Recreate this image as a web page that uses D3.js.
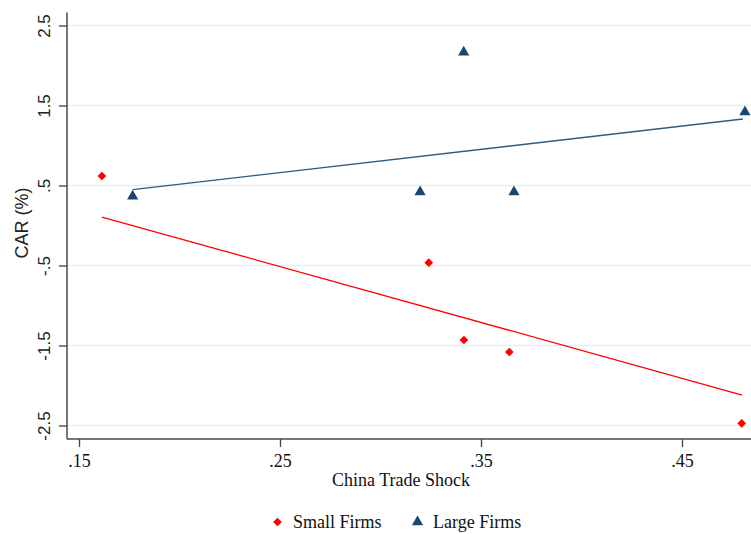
<!DOCTYPE html>
<html><head><meta charset="utf-8">
<script src="https://cdn.jsdelivr.net/npm/d3@7"></script>
<style>body{margin:0;background:#fff}svg{display:block}</style>
</head><body>
<svg id="c" width="751" height="534"></svg>
<script>
// ---- data ----
const smallX = [0.1614, 0.3240, 0.3415, 0.3641, 0.4797];
const smallY = [0.619, -0.465, -1.431, -1.581, -2.4725];
const largeX = [0.1767, 0.3197, 0.3414, 0.3664, 0.4813];
const largeY = [0.366, 0.418, 2.165, 0.418, 1.419];
const smallFitX = [0.1614, 0.4799];
const smallFitY = [0.106, -2.119];
const largeFitX = [0.1767, 0.4803];
const largeFitY = [0.448, 1.331];
const xTicks = [0.15, 0.25, 0.35, 0.45];
const xTickLabels = [".15", ".25", ".35", ".45"];
const yTicks = [2.5, 1.5, 0.5, -0.5, -1.5, -2.5];
const yTickLabels = ["2.5", "1.5", ".5", "-.5", "-1.5", "-2.5"];
const seriesNames = ["Small Firms", "Large Firms"];

const RED = "#ff0000", NAVY = "#1a476f";
const svg = d3.select("#c");
const x = d3.scaleLinear().domain([0.15, 0.45]).range([79, 682]);
const y = d3.scaleLinear().domain([-2.5, 2.5]).range([425.5, 25.5]);
const axisX0 = 67, axisY0 = 439;

// gridlines
svg.append("g").selectAll("line").data(yTicks).join("line")
  .attr("x1", axisX0).attr("x2", 751)
  .attr("y1", d => y(d)).attr("y2", d => y(d))
  .attr("stroke", "#e5eef0").attr("stroke-width", 1.3);

// y axis
const yAxis = d3.axisLeft(y).tickValues(yTicks).tickSize(8).tickFormat((d,i)=>yTickLabels[i]);
const gy = svg.append("g").attr("transform", `translate(${axisX0},0)`).call(yAxis);
gy.select(".domain").remove();
gy.selectAll(".tick line").attr("stroke", "#4a4a4a").attr("stroke-width", 1.4);
gy.selectAll(".tick text").attr("transform", "rotate(-90)").attr("x", 0).attr("y", -17)
  .attr("dy", 0).attr("text-anchor", "middle")
  .style("font-family", "'Liberation Sans', Arial, sans-serif").style("font-size", "17px").attr("fill", "#222");
svg.append("line").attr("x1", axisX0).attr("x2", axisX0).attr("y1", 12.5).attr("y2", axisY0)
  .attr("stroke", "#4a4a4a").attr("stroke-width", 1.5);

// x axis
const xAxis = d3.axisBottom(x).tickValues(xTicks).tickSize(8).tickFormat((d,i)=>xTickLabels[i]);
const gx = svg.append("g").attr("transform", `translate(0,${axisY0})`).call(xAxis);
gx.select(".domain").remove();
gx.selectAll(".tick line").attr("stroke", "#4a4a4a").attr("stroke-width", 1.4);
gx.selectAll(".tick text").attr("y", 28).attr("dy", 0)
  .style("font-family", "'Liberation Serif', 'Times New Roman', serif").style("font-size", "18px").attr("fill", "#111");
svg.append("line").attr("x1", axisX0).attr("x2", 751).attr("y1", axisY0).attr("y2", axisY0)
  .attr("stroke", "#4a4a4a").attr("stroke-width", 1.5);

// axis titles
svg.append("text").attr("x", 401).attr("y", 486).attr("text-anchor", "middle")
  .style("font-family", "'Liberation Serif', 'Times New Roman', serif").style("font-size", "18px")
  .attr("fill", "#111").text("China Trade Shock");
svg.append("text").attr("transform", "translate(28,223) rotate(-90)").attr("text-anchor", "middle")
  .style("font-family", "'Liberation Sans', Arial, sans-serif").style("font-size", "18px")
  .attr("fill", "#222").text("CAR (%)");

// fit lines
const line = d3.line().x(d => x(d[0])).y(d => y(d[1]));
svg.append("path").datum(d3.zip(smallFitX, smallFitY)).attr("d", line)
  .attr("fill", "none").attr("stroke", RED).attr("stroke-width", 1.3);
svg.append("path").datum(d3.zip(largeFitX, largeFitY)).attr("d", line)
  .attr("fill", "none").attr("stroke", "#2f5a80").attr("stroke-width", 1.4);

// markers
const diamond = d3.symbol().type(d3.symbolDiamond2).size(48)();
const tri = d3.symbol().type(d3.symbolTriangle).size(54)();
svg.append("g").selectAll("path").data(d3.zip(smallX, smallY)).join("path")
  .attr("d", diamond).attr("transform", d => `translate(${x(d[0])},${y(d[1])})`).attr("fill", RED);
svg.append("g").selectAll("path").data(d3.zip(largeX, largeY)).join("path")
  .attr("d", tri).attr("transform", d => `translate(${x(d[0])},${y(d[1])})`).attr("fill", NAVY);

// legend
const leg = svg.append("g");
leg.append("path").attr("d", diamond).attr("transform", "translate(277.5,522)").attr("fill", RED);
leg.append("text").attr("x", 293).attr("y", 528).text(seriesNames[0])
  .style("font-family", "'Liberation Serif', 'Times New Roman', serif").style("font-size", "18px").attr("fill", "#111");
leg.append("path").attr("d", tri).attr("transform", "translate(417.5,522)").attr("fill", NAVY);
leg.append("text").attr("x", 433).attr("y", 528).text(seriesNames[1])
  .style("font-family", "'Liberation Serif', 'Times New Roman', serif").style("font-size", "18px").attr("fill", "#111");
</script>
</body></html>
